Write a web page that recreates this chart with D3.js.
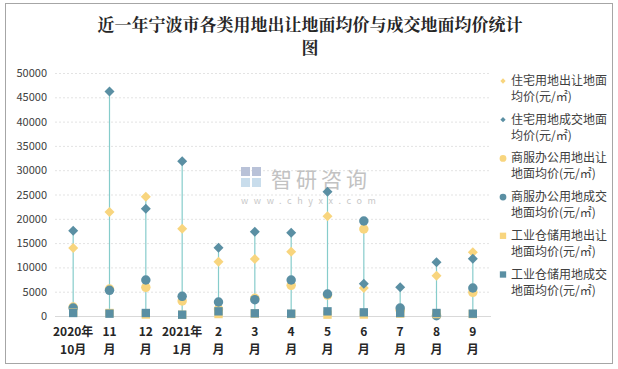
<!DOCTYPE html>
<html><head><meta charset="utf-8">
<script src="https://cdn.jsdelivr.net/npm/d3@7"></script>
<style>body{margin:0;background:#fff;} svg{display:block;font-family:"Noto Sans CJK SC","Noto Sans",sans-serif;}</style>
</head><body><svg id="c" width="618" height="369"></svg>
<script>
const categories = ["2020年\n10月","11\n月","12\n月","2021年\n1月","2\n月","3\n月","4\n月","5\n月","6\n月","7\n月","8\n月","9\n月"];
const resTransfer = [14000,21400,24560,17970,11180,11730,13240,20510,5760,null,8300,13100];
const resDeal     = [17560,46170,22090,31830,14060,17360,17150,25590,6650,5900,11040,11800];
const comTransfer = [1850,5560,5900,3090,1440,3640,6310,4300,17900,1170,200,4870];
const comDeal     = [1650,5280,7410,4050,2880,3360,7410,4530,19550,1650,50,5760];
const indTransfer = [700,620,300,250,400,500,400,270,300,500,400,400];
const indDeal     = [620,480,620,270,960,550,480,960,750,620,620,480];
const yTicks = [0,5000,10000,15000,20000,25000,30000,35000,40000,45000,50000];
const seriesNames = ["住宅用地出让地面\n均价(元/㎡)","住宅用地成交地面\n均价(元/㎡)","商服办公用地出让\n地面均价(元/㎡)","商服办公用地成交\n地面均价(元/㎡)","工业仓储用地出让\n地面均价(元/㎡)","工业仓储用地成交\n地面均价(元/㎡)"];

const YEL = "#f8d57e", TEAL = "#5a8fa3", LINE = "#86cccb";
const series = [
  {name:seriesNames[0], data:resTransfer, color:YEL, sym:d3.symbolSquare, size:50, rot:45},
  {name:seriesNames[1], data:resDeal, color:TEAL, sym:d3.symbolSquare, size:50, rot:45},
  {name:seriesNames[2], data:comTransfer, color:YEL, sym:d3.symbolCircle, size:70, rot:0},
  {name:seriesNames[3], data:comDeal, color:TEAL, sym:d3.symbolCircle, size:70, rot:0},
  {name:seriesNames[4], data:indTransfer, color:YEL, sym:d3.symbolSquare, size:70, rot:0},
  {name:seriesNames[5], data:indDeal, color:TEAL, sym:d3.symbolSquare, size:70, rot:0}
];

const svg = d3.select("#c");
svg.append("rect").attr("x",5.5).attr("y",3.5).attr("width",607).attr("height",360).attr("fill","none").attr("stroke","#a6a6a6");

const title = svg.append("text").attr("text-anchor","middle").attr("font-size",17).attr("font-weight","bold").attr("fill","#262626")
  .attr("font-family","'Noto Serif CJK SC','Noto Sans CJK SC',serif");
title.append("tspan").attr("x",310).attr("y",31).text("近一年宁波市各类用地出让地面均价与成交地面均价统计");
title.append("tspan").attr("x",310).attr("y",54).text("图");

const x = d3.scaleBand().domain(categories).range([55,491]);
const y = d3.scaleLinear().domain([0,50000]).range([316,73]);

svg.append("g").selectAll("line").data(yTicks.filter(d=>d>0)).join("line")
  .attr("x1",55).attr("x2",491).attr("y1",d=>y(d)+0.5).attr("y2",d=>y(d)+0.5)
  .attr("stroke","#e3e3e3").attr("stroke-dasharray","2,2");
svg.append("line").attr("x1",55).attr("x2",491).attr("y1",y(0)+0.5).attr("y2",y(0)+0.5).attr("stroke","#d9d9d9");

const yAxis = svg.append("g").attr("transform","translate(47,0)")
  .call(d3.axisLeft(y).tickValues(yTicks).tickSize(0).tickPadding(0).tickFormat(d3.format("d")));
yAxis.select(".domain").remove();
yAxis.selectAll("text").attr("font-size",11).attr("fill","#404040").attr("font-family","'Noto Sans CJK SC',sans-serif");

const xl = svg.append("g").selectAll("text").data(categories).join("text")
  .attr("text-anchor","middle").attr("font-size",12).attr("font-weight","bold").attr("fill","#262626");
xl.each(function(d){
  const parts = d.split("\n");
  const t = d3.select(this);
  parts.forEach((p,i)=>t.append("tspan").attr("x",x(d)+x.bandwidth()/2).attr("y",336+i*18).text(p));
});

// watermark
const wm = svg.append("g");
wm.append("rect").attr("x",241).attr("y",167).attr("width",9).attr("height",9).attr("fill","#b9c2d8");
wm.append("rect").attr("x",252).attr("y",167).attr("width",9).attr("height",9).attr("fill","#b9c2d8");
wm.append("rect").attr("x",241).attr("y",178).attr("width",9).attr("height",9).attr("fill","#c9ddec");
wm.append("rect").attr("x",252).attr("y",178).attr("width",9).attr("height",9).attr("fill","#c9ddec");
wm.append("text").attr("x",271).attr("y",187).attr("font-size",21).attr("fill","#c2c2c2").attr("letter-spacing",4).text("智研咨询");
wm.append("text").attr("x",241).attr("y",204).attr("font-size",9).attr("fill","#c8c8c8").attr("letter-spacing",5.6).text("www.chyxx.com");

const dropData = categories.map((c,i)=>{
  const vals = series.map(s=>s.data[i]).filter(v=>v!=null);
  return {c, lo:d3.min(vals), hi:d3.max(vals)};
});
svg.append("g").selectAll("line").data(dropData).join("line")
  .attr("x1",d=>x(d.c)+x.bandwidth()/2).attr("x2",d=>x(d.c)+x.bandwidth()/2)
  .attr("y1",d=>y(d.lo)).attr("y2",d=>y(d.hi)).attr("stroke",LINE).attr("stroke-width",1.2);

series.forEach(s=>{
  svg.append("g").selectAll("path").data(s.data.map((v,i)=>({v,c:categories[i]})).filter(d=>d.v!=null)).join("path")
    .attr("d",d3.symbol().type(s.sym).size(s.size))
    .attr("transform",d=>`translate(${x(d.c)+x.bandwidth()/2},${y(d.v)}) rotate(${s.rot})`)
    .attr("fill",s.color);
});

const lg = svg.append("g");
series.forEach((s,i)=>{
  const yy = 85 + i*38.7;
  const sz = s.rot ? 14 : (s.sym===d3.symbolCircle ? 36 : 40);
  lg.append("path").attr("d",d3.symbol().type(s.sym).size(sz)).attr("transform",`translate(503,${yy-4}) rotate(${s.rot})`).attr("fill",s.color);
  const t = lg.append("text").attr("font-size",12).attr("fill","#404040");
  s.name.split("\n").forEach((p,j)=>t.append("tspan").attr("x",511).attr("y",yy+j*16).text(p));
});
</script></body></html>
